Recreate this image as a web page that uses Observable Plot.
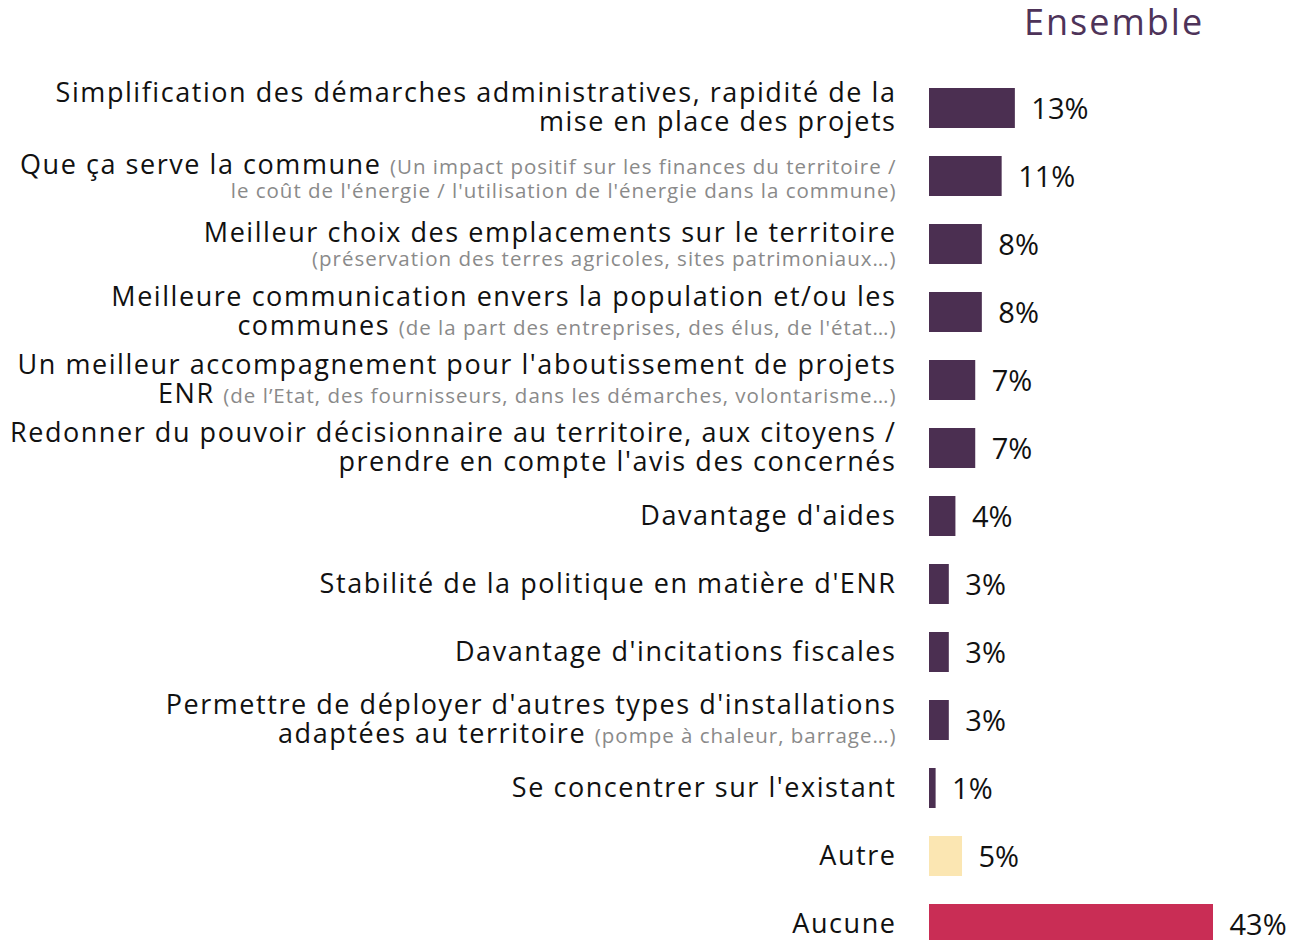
<!DOCTYPE html>
<html><head><meta charset="utf-8">
<script src="https://cdn.jsdelivr.net/npm/d3@7"></script>
<script src="https://cdn.jsdelivr.net/npm/@observablehq/plot@0.6"></script>
<style>
body{margin:0;background:#fff;font-family:"Open Sans",sans-serif;overflow:hidden;}
#title{position:relative;height:60px;width:1297px;}
#title span{position:absolute;left:1024px;top:2px;font-size:36px;line-height:40px;letter-spacing:2px;color:#4e3359;}
#chart svg{overflow:hidden;display:block;}
</style></head><body>
<div id="title"><span>Ensemble</span></div>
<div id="chart"></div>
<script>
const categories = [
  "Simplification des démarches administratives, rapidité de la\nmise en place des projets",
  "Que ça serve la commune (Un impact positif sur les finances du territoire /\nle coût de l'énergie / l'utilisation de l'énergie dans la commune)",
  "Meilleur choix des emplacements sur le territoire\n(préservation des terres agricoles, sites patrimoniaux…)",
  "Meilleure communication envers la population et/ou les\ncommunes (de la part des entreprises, des élus, de l'état…)",
  "Un meilleur accompagnement pour l'aboutissement de projets\nENR (de l’Etat, des fournisseurs, dans les démarches, volontarisme…)",
  "Redonner du pouvoir décisionnaire au territoire, aux citoyens /\nprendre en compte l'avis des concernés",
  "Davantage d'aides",
  "Stabilité de la politique en matière d'ENR",
  "Davantage d'incitations fiscales",
  "Permettre de déployer d'autres types d'installations\nadaptées au territoire (pompe à chaleur, barrage…)",
  "Se concentrer sur l'existant",
  "Autre",
  "Aucune"
];
const values = [13, 11, 8, 8, 7, 7, 4, 3, 3, 3, 1, 5, 43];
const groups = ["Levier","Levier","Levier","Levier","Levier","Levier","Levier","Levier","Levier","Levier","Levier","Autre","Aucune"];
const groupDomain = ["Levier", "Autre", "Aucune"];
const groupColors = ["#4b2f51", "#fbe6b2", "#c92d55"];

const data = categories.map((c, i) => ({cat: c, value: values[i], group: groups[i]}));

const plot = Plot.plot({
  width: 1297,
  height: 880,
  marginLeft: 929,
  marginRight: 84,
  marginTop: 0,
  marginBottom: 0,
  x: {domain: [0, 43], axis: null},
  y: {domain: categories, range: [0, 912], padding: 28 / 68, round: false, axis: null},
  color: {domain: groupDomain, range: groupColors},
  style: {fontFamily: "'Open Sans', sans-serif", background: "#fff"},
  marks: [
    Plot.barX(data, {x: "value", y: "cat", fill: "group"}),
    Plot.text(data, {x: "value", y: "cat", text: d => d.value + "%", textAnchor: "start", dx: 16, dy: 1, fontSize: 29, fill: "#111"}),
    Plot.text(data, {x: () => 0, y: "cat", text: "cat", textAnchor: "end", dx: -33, fontSize: 27, fill: "#111"})
  ]
});

// Style labels: parenthetical parts in smaller grey text
const NS = "http://www.w3.org/2000/svg";
const textGroups = plot.querySelectorAll('g[aria-label="text"]');
const labelTexts = textGroups[textGroups.length - 1].querySelectorAll("text");
labelTexts.forEach((el, i) => {
  const lines = categories[i].split("\n");
  while (el.firstChild) el.removeChild(el.firstChild);
  el.removeAttribute("y");
  el.removeAttribute("dy");
  el.setAttribute("style", "white-space:pre");
  el.setAttribute("letter-spacing", "1.55");
  let inParen = false;
  const parsed = lines.map(line => {
    const segs = [];
    let cur = "", curGray = inParen;
    for (const ch of line) {
      if (ch === "(" && !inParen) {
        if (cur) segs.push({t: cur, gray: curGray});
        cur = ""; inParen = true; curGray = true;
      }
      cur += ch;
      if (ch === ")" && inParen) {
        segs.push({t: cur, gray: true});
        cur = ""; inParen = false; curGray = false;
      }
    }
    if (cur) segs.push({t: cur, gray: curGray});
    return segs;
  });
  let offsets;
  if (parsed.length === 1) offsets = [8];
  else if (parsed[1].some(s => !s.gray)) offsets = [-7, 22];
  else offsets = [-3, 21];
  parsed.forEach((segs, k) => {
    const line = document.createElementNS(NS, "tspan");
    line.setAttribute("x", 0);
    line.setAttribute("y", offsets[k]);
    segs.forEach(s => {
      const t = document.createElementNS(NS, "tspan");
      t.textContent = s.t;
      if (s.gray) {
        t.setAttribute("fill", "#8a8a8a");
        t.setAttribute("font-size", "20.5");
        t.setAttribute("letter-spacing", "1");
      }
      line.appendChild(t);
    });
    el.appendChild(line);
  });
});

document.getElementById("chart").appendChild(plot);
</script>
</body></html>
